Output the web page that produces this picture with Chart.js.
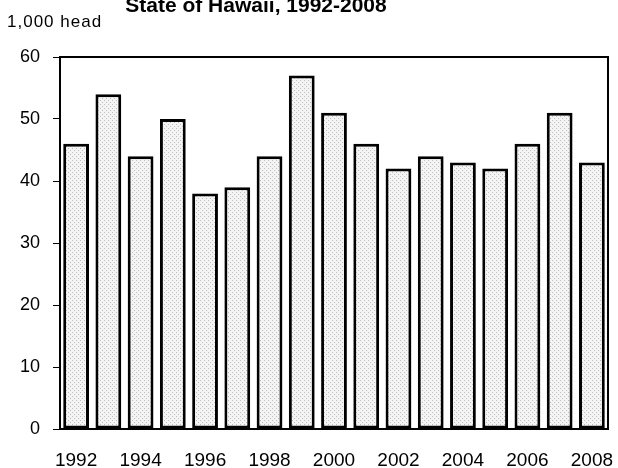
<!DOCTYPE html>
<html>
<head>
<meta charset="utf-8">
<script src="https://cdn.jsdelivr.net/npm/chart.js@4/dist/chart.umd.min.js"></script>
<style>
  html, body { margin: 0; padding: 0; background: #fff; }
  #wrap { width: 618px; height: 468px; position: relative; }
</style>
</head>
<body>
<div id="wrap"><canvas id="chart" width="618" height="468"></canvas></div>
<script>
// Chart data
const years = ['1992', '1993', '1994', '1995', '1996', '1997', '1998', '1999', '2000',
               '2001', '2002', '2003', '2004', '2005', '2006', '2007', '2008'];
const headCount = [46, 54, 44, 50, 38, 39, 44, 57, 51, 46, 42, 44, 43, 42, 46, 51, 43];
const yTicks = [0, 10, 20, 30, 40, 50, 60];
const titleText = 'State of Hawaii, 1992-2008';
const unitText = '1,000 head';

const FONT = '"Liberation Sans", Arial, sans-serif';

// light dotted fill like the original
function dotPattern() {
    const c = document.createElement('canvas');
    c.width = 4; c.height = 4;
    const g = c.getContext('2d');
    g.fillStyle = '#f4f4f4';
    g.fillRect(0, 0, 4, 4);
    g.fillStyle = '#bdbdbd';
    g.fillRect(0, 0, 1, 1);
    g.fillRect(2, 2, 1, 1);
    return g.createPattern(c, 'repeat');
}

const labelsPlugin = {
    id: 'labels',
    afterDraw(chart) {
        const ctx = chart.ctx;
        const area = chart.chartArea;
        ctx.save();
        // frame around plot area
        ctx.strokeStyle = '#000';
        ctx.lineWidth = 2;
        ctx.strokeRect(area.left, area.top, area.right - area.left, area.bottom - area.top);
        // title (top clipped as in the reference)
        ctx.fillStyle = '#000';
        ctx.font = 'bold 21px ' + FONT;
        ctx.textAlign = 'center';
        ctx.textBaseline = 'middle';
        ctx.fillText(titleText, 256, 6);
        // unit label
        ctx.font = '17px ' + FONT;
        ctx.letterSpacing = '1px';
        ctx.textAlign = 'left';
        ctx.fillText(unitText, 7, 22);
        ctx.restore();
    }
};

const ctx = document.getElementById('chart').getContext('2d');
new Chart(ctx, {
    type: 'bar',
    data: {
        labels: years,
        datasets: [{
            data: headCount,
            backgroundColor: dotPattern(),
            borderColor: '#000',
            borderWidth: 3,
            borderSkipped: false,
            barPercentage: 0.8,
            categoryPercentage: 1.0
        }]
    },
    options: {
        responsive: false,
        animation: false,
        layout: { padding: { top: 57, right: 10, bottom: 0, left: 0 } },
        plugins: {
            legend: { display: false },
            tooltip: { enabled: false }
        },
        scales: {
            x: {
                afterFit: (s) => {
                    s.height = 39;
                    s.paddingLeft = 0;
                    s.paddingRight = 0;
                },
                grid: { display: false, drawTicks: false },
                border: { display: false },
                ticks: {
                    autoSkip: false,
                    maxRotation: 0,
                    padding: 20,
                    color: '#000',
                    font: { family: FONT, size: 19 },
                    callback: (v, i) => (i % 2 === 0 ? years[i] : '')
                }
            },
            y: {
                min: 0,
                max: 60,
                afterFit: (s) => { s.width = 60; },
                afterBuildTicks: (s) => { s.ticks = yTicks.map(v => ({ value: v })); },
                grid: { drawOnChartArea: false, color: '#000', tickLength: 7, lineWidth: 1 },
                border: { display: false },
                ticks: {
                    padding: 13,
                    color: '#000',
                    font: { family: FONT, size: 18 }
                }
            }
        }
    },
    plugins: [labelsPlugin]
});
</script>
</body>
</html>
